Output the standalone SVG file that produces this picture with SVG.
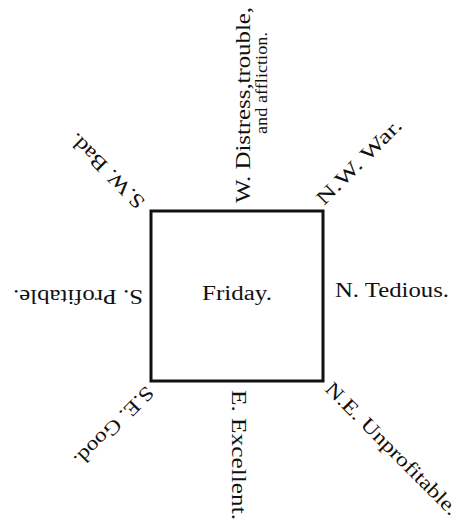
<svg xmlns="http://www.w3.org/2000/svg" width="459" height="522" viewBox="0 0 459 522">
<style>
text{font-family:"Liberation Serif","DejaVu Serif",serif;font-size:20px;fill:#111;}
.small{font-size:17px;}
.box{fill:none;stroke:#111;stroke-width:3;}
</style>
<rect width="459" height="522" fill="#fff"/>
<g id="friday">
<rect class="box" x="151" y="211" width="172" height="170"/>
<text x="202" y="300" textLength="70" lengthAdjust="spacingAndGlyphs">Friday.</text>
</g>
<g id="connectors"></g>
<g id="north"><text x="335" y="297" textLength="114" lengthAdjust="spacingAndGlyphs">N. Tedious.</text></g>
<g id="south"><text transform="translate(143,290) rotate(180)" textLength="130" lengthAdjust="spacingAndGlyphs">S. Profitable.</text></g>
<g id="west">
<text transform="translate(250,203) rotate(-90)" textLength="196" lengthAdjust="spacingAndGlyphs">W. Distress,trouble,</text>
<text class="small" transform="translate(267,134) rotate(-90)" textLength="102" lengthAdjust="spacingAndGlyphs">and affliction.</text>
</g>
<g id="east"><text transform="translate(232,390) rotate(90)" textLength="130" lengthAdjust="spacingAndGlyphs">E. Excellent.</text></g>
<g id="northwest"><text transform="translate(324,206) rotate(-45)" textLength="112" lengthAdjust="spacingAndGlyphs">N.W. War.</text></g>
<g id="southwest"><text transform="translate(146,201) rotate(-135)" textLength="98" lengthAdjust="spacingAndGlyphs">S.W. Bad.</text></g>
<g id="southeast"><text transform="translate(146,385) rotate(135)" textLength="104" lengthAdjust="spacingAndGlyphs">S.E. Good.</text></g>
<g id="northeast"><text transform="translate(324,390) rotate(45)" textLength="179" lengthAdjust="spacingAndGlyphs">N.E. Unprofitable.</text></g>
</svg>
